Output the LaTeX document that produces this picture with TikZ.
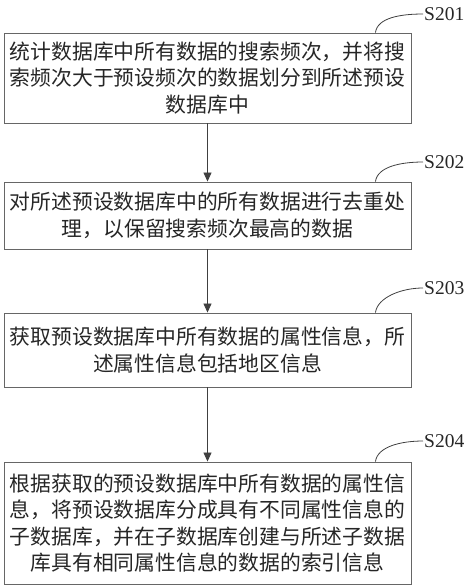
\documentclass[tikz,border=0pt]{standalone}
\usepackage{fontspec}
\setmainfont{Liberation Serif}
\newfontfamily\cjk{Noto Sans CJK SC}
\usetikzlibrary{arrows.meta}
\begin{document}
\begin{tikzpicture}[x=1pt,y=-1pt,
  box/.style={draw=black!60, line width=0.9pt, minimum width=407pt, align=center,
    inner sep=0pt, font=\cjk\fontsize{20.8}{26.5}\selectfont, text=black!85},
  arr/.style={draw=black!75, line width=0.8pt, -{Triangle[length=9pt,width=8pt]}},
  lead/.style={draw=black!75, line width=0.8pt},
  lab/.style={anchor=west, inner sep=1pt, font=\fontsize{19.5}{22}\selectfont, text=black!85}]
\useasboundingbox (0,0) rectangle (474,587);
\node[box, minimum height=90pt] (b1) at (207.5,78) {统计数据库中所有数据的搜索频次，并将搜\\索频次大于预设频次的数据划分到所述预设\\数据库中};
\node[box, minimum height=67pt] (b2) at (207.5,215.5) {对所述预设数据库中的所有数据进行去重处\\理，以保留搜索频次最高的数据};
\node[box, minimum height=74pt] (b3) at (207.5,350) {获取预设数据库中所有数据的属性信息，所\\述属性信息包括地区信息};
\node[box, minimum height=122pt] (b4) at (207.5,523) {根据获取的预设数据库中所有数据的属性信\\息，将预设数据库分成具有不同属性信息的\\子数据库，并在子数据库创建与所述子数据\\库具有相同属性信息的数据的索引信息};
\node[lab] (l1) at (423,14) {S201};
\node[lab] (l2) at (423,162) {S202};
\node[lab] (l3) at (423,288) {S203};
\node[lab] (l4) at (423,441) {S204};
\draw[arr] (b1) -- (b2);
\draw[arr] (b2) -- (b3);
\draw[arr] (b3) -- (b4);
\draw[lead] ([xshift=-36pt]b1.north east) .. controls +(2,-15) and +(-22,0) .. (l1.west);
\draw[lead] ([xshift=-36pt]b2.north east) .. controls +(2,-15) and +(-22,0) .. (l2.west);
\draw[lead] ([xshift=-36pt]b3.north east) .. controls +(2,-15) and +(-22,0) .. (l3.west);
\draw[lead] ([xshift=-36pt]b4.north east) .. controls +(2,-15) and +(-22,0) .. (l4.west);
\end{tikzpicture}
\end{document}
